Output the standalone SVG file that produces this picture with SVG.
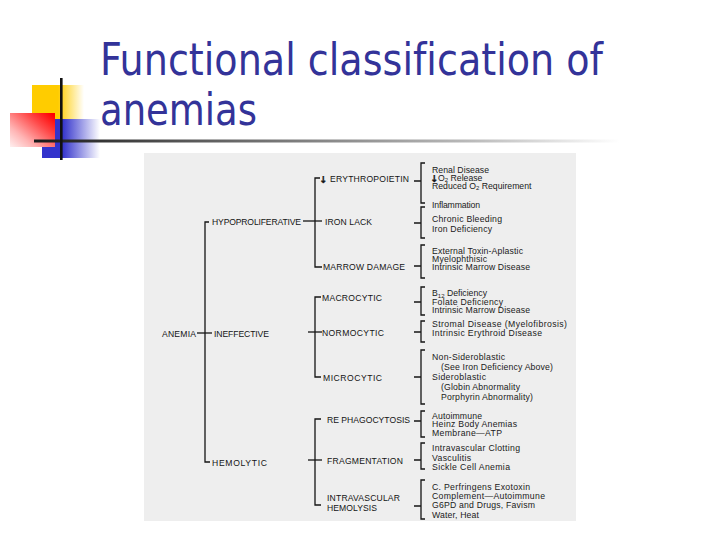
<svg xmlns="http://www.w3.org/2000/svg" width="720" height="540" viewBox="0 0 720 540">
<defs>
<linearGradient id="gY" x1="0" y1="0" x2="1" y2="0"><stop offset="0" stop-color="#FFCC00"/><stop offset="0.5" stop-color="#FFCC00"/><stop offset="1" stop-color="#FFCC00" stop-opacity="0"/></linearGradient>
<linearGradient id="gB" x1="0" y1="0" x2="1" y2="0"><stop offset="0" stop-color="#3333CC"/><stop offset="0.35" stop-color="#3333CC"/><stop offset="1" stop-color="#3333CC" stop-opacity="0"/></linearGradient>
<linearGradient id="gR" x1="1" y1="0.1" x2="0" y2="1"><stop offset="0" stop-color="#FF0000"/><stop offset="0.3" stop-color="#FF4848"/><stop offset="0.7" stop-color="#FFB4B4"/><stop offset="1" stop-color="#FFF0F0"/></linearGradient>
<linearGradient id="gL" gradientUnits="userSpaceOnUse" x1="34" y1="0" x2="620" y2="0"><stop offset="0" stop-color="#1a1a1a"/><stop offset="0.25" stop-color="#555"/><stop offset="0.75" stop-color="#bbb"/><stop offset="1" stop-color="#fff"/></linearGradient>
<style>
.title{font-family:"DejaVu Sans Condensed","DejaVu Sans",sans-serif;font-size:44px;fill:#333399;font-variant-ligatures:none}
.lab{font-family:"Liberation Sans",Arial,sans-serif;font-size:8.6px;fill:#141414}
.it{font-family:"Liberation Sans",Arial,sans-serif;font-size:8.7px;fill:#1a1a1a}
.arr{font-family:"DejaVu Sans",sans-serif;font-weight:bold;font-size:9.5px;fill:#141414;stroke:#141414;stroke-width:0.3}
.sub{font-size:6px}
.c{fill:none;stroke:#151515;stroke-width:1.3}
</style>
</defs>
<rect width="720" height="540" fill="#fff"/>
<g id="logo">
<rect x="32" y="85" width="52" height="34" fill="url(#gY)"/>
<rect x="42" y="119" width="58" height="39" fill="url(#gB)"/>
<rect x="10" y="113" width="45" height="34" fill="url(#gR)"/>
<rect x="34" y="139.5" width="586" height="3" fill="url(#gL)"/>
<rect x="60" y="78" width="2.6" height="82" fill="#111"/>
</g>
<g id="title">
<text class="title" x="100" y="75" textLength="503" lengthAdjust="spacingAndGlyphs">Functional classification of</text>
<text class="title" x="100" y="125" textLength="157" lengthAdjust="spacingAndGlyphs">anemias</text>
</g>
<rect id="scan" x="144" y="153" width="432" height="368" fill="#eeeeee"/>
<g id="connectors">
<path class="c" d="M209,222 H205 V462 H210"/>
<path class="c" d="M197,333 H212" stroke-width="1.7"/>
<path class="c" d="M320,178 H315 V267 H322"/>
<path class="c" d="M303,221 H322"/>
<path class="c" d="M321,297 H315 V377 H321"/>
<path class="c" d="M308,332 H322"/>
<path class="c" d="M321,419 H315 V505 H321"/>
<path class="c" d="M308,460 H322"/>
<path class="c" d="M425,163 H421 V203 H425 M414,181 H421"/>
<path class="c" d="M425,207 H421 V238 H425 M414,223 H421"/>
<path class="c" d="M425,245 H421 V278 H425 M414,266 H421"/>
<path class="c" d="M425,287 H421 V315 H425 M414,302 H421"/>
<path class="c" d="M425,321 H421 V342 H425 M414,332 H421"/>
<path class="c" d="M425,350 H421 V404 H425 M414,377 H421"/>
<path class="c" d="M425,411 H421 V437 H425 M414,421 H421"/>
<path class="c" d="M425,443 H421 V469 H425 M414,460 H421"/>
<path class="c" d="M425,480 H421 V519 H425 M414,506 H421"/>
</g>
<g id="anemia"><text class="lab" x="162" y="336.5" textLength="34">ANEMIA</text></g>
<g id="hypoproliferative"><text class="lab" x="212" y="224.5" textLength="89">HYPOPROLIFERATIVE</text></g>
<g id="ineffective"><text class="lab" x="214" y="336.5" textLength="55">INEFFECTIVE</text></g>
<g id="hemolytic"><text class="lab" x="212" y="465.5" textLength="55">HEMOLYTIC</text></g>
<g id="erythropoietin"><text class="arr" x="323.5" y="182.5" text-anchor="middle">↓</text><text class="lab" x="330" y="181.5" textLength="79">ERYTHROPOIETIN</text></g>
<g id="iron-lack"><text class="lab" x="325" y="224.5" textLength="47">IRON LACK</text></g>
<g id="marrow-damage"><text class="lab" x="323" y="269.5" textLength="82">MARROW DAMAGE</text></g>
<g id="macrocytic"><text class="lab" x="322" y="300.5" textLength="60">MACROCYTIC</text></g>
<g id="normocytic"><text class="lab" x="322" y="335.5" textLength="62">NORMOCYTIC</text></g>
<g id="microcytic"><text class="lab" x="323" y="380.5" textLength="59">MICROCYTIC</text></g>
<g id="re-phagocytosis"><text class="lab" x="327" y="422.5" textLength="83">RE PHAGOCYTOSIS</text></g>
<g id="fragmentation"><text class="lab" x="327" y="463.5" textLength="76">FRAGMENTATION</text></g>
<g id="intravascular-hemolysis"><text class="lab" x="327" y="500.5" textLength="73">INTRAVASCULAR</text><text class="lab" x="327" y="510.5" textLength="50">HEMOLYSIS</text></g>
<g id="erythropoietin-causes">
<text class="it" x="432" y="172.5" textLength="57">Renal Disease</text>
<text class="arr" x="434.5" y="181.5" text-anchor="middle">↓</text>
<text class="it" x="438" y="180.5">O<tspan class="sub" dy="1.8">2</tspan><tspan dy="-1.8"> Release</tspan></text>
<text class="it" x="432" y="188.5">Reduced O<tspan class="sub" dy="1.8">2</tspan><tspan dy="-1.8"> Requirement</tspan></text>
<text class="it" x="432" y="208" textLength="48">Inflammation</text>
</g>
<g id="iron-lack-causes">
<text class="it" x="432" y="222" textLength="70">Chronic Bleeding</text>
<text class="it" x="432" y="232" textLength="60">Iron Deficiency</text>
</g>
<g id="marrow-damage-causes">
<text class="it" x="432" y="254" textLength="91">External Toxin-Aplastic</text>
<text class="it" x="432" y="262" textLength="55">Myelophthisic</text>
<text class="it" x="432" y="270" textLength="98">Intrinsic Marrow Disease</text>
</g>
<g id="macrocytic-causes">
<text class="it" x="432" y="296">B<tspan class="sub" dy="1.8">12</tspan><tspan dy="-1.8"> Deficiency</tspan></text>
<text class="it" x="432" y="305" textLength="71">Folate Deficiency</text>
<text class="it" x="432" y="313" textLength="98">Intrinsic Marrow Disease</text>
</g>
<g id="normocytic-causes">
<text class="it" x="432" y="327" textLength="135">Stromal Disease (Myelofibrosis)</text>
<text class="it" x="432" y="336" textLength="110">Intrinsic Erythroid Disease</text>
</g>
<g id="microcytic-causes">
<text class="it" x="432" y="359.5" textLength="73">Non-Sideroblastic</text>
<text class="it" x="441" y="369.5" textLength="112">(See Iron Deficiency Above)</text>
<text class="it" x="432" y="379.5" textLength="54">Sideroblastic</text>
<text class="it" x="441" y="390" textLength="79">(Globin Abnormality</text>
<text class="it" x="441" y="400" textLength="92">Porphyrin Abnormality)</text>
</g>
<g id="re-phagocytosis-causes">
<text class="it" x="432" y="418.5" textLength="50">Autoimmune</text>
<text class="it" x="432" y="427" textLength="85">Heinz Body Anemias</text>
<text class="it" x="432" y="436" textLength="70">Membrane—ATP</text>
</g>
<g id="fragmentation-causes">
<text class="it" x="432" y="450.5" textLength="88">Intravascular Clotting</text>
<text class="it" x="432" y="460.5" textLength="39">Vasculitis</text>
<text class="it" x="432" y="470" textLength="78">Sickle Cell Anemia</text>
</g>
<g id="intravascular-hemolysis-causes">
<text class="it" x="432" y="490" textLength="98">C. Perfringens Exotoxin</text>
<text class="it" x="432" y="499" textLength="113">Complement—Autoimmune</text>
<text class="it" x="432" y="508" textLength="103">G6PD and Drugs, Favism</text>
<text class="it" x="432" y="518" textLength="47">Water, Heat</text>
</g>
</svg>
